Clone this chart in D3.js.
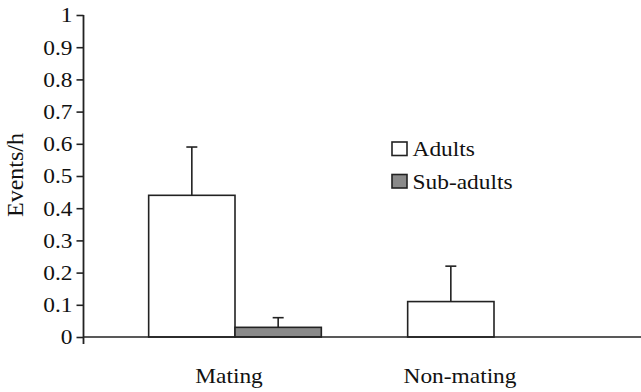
<!DOCTYPE html>
<html><head><meta charset="utf-8">
<script src="https://cdn.jsdelivr.net/npm/d3@7"></script>
<style>body{margin:0;background:#fff}svg{display:block}text{font-family:"Liberation Serif","Times New Roman",serif;fill:#111}</style>
</head><body><svg id="c" width="641" height="392"></svg>
<script>
const categories = ["Mating", "Non-mating"];
const groups = ["Adults", "Sub-adults"];
const adults = [0.44, 0.11];
const adultsErr = [0.59, 0.22];
const subAdults = [0.03, 0];
const subAdultsErr = [0.06, 0];
const yTicks = [0,0.1,0.2,0.3,0.4,0.5,0.6,0.7,0.8,0.9,1];
const yTickLabels = ["0","0.1","0.2","0.3","0.4","0.5","0.6","0.7","0.8","0.9","1"];

const svg = d3.select("#c");
const SX = 1.17, FS = 20, stroke = "#222";
const y = d3.scaleLinear().domain([0,1]).range([337,15]);
const x = d3.scaleBand().domain(categories).range([105.5,623.5]).paddingInner(0).paddingOuter(0);
const xs = d3.scaleBand().domain(groups).range([0,x.bandwidth()]).paddingInner(0).paddingOuter(0.5);
const fills = {"Adults":"#ffffff","Sub-adults":"#8a8a8a"};

const data = [];
categories.forEach((c,i)=>{
  data.push({c, g:"Adults", v:adults[i], e:adultsErr[i]});
  data.push({c, g:"Sub-adults", v:subAdults[i], e:subAdultsErr[i]});
});

// bars
const bars = data.filter(d=>d.v>0);
svg.selectAll("rect.bar").data(bars).join("rect").attr("class","bar")
  .attr("x", d=>x(d.c)+xs(d.g)).attr("width", xs.bandwidth())
  .attr("y", d=>y(d.v)).attr("height", d=>y(0)-y(d.v))
  .attr("fill", d=>fills[d.g]).attr("stroke", stroke).attr("stroke-width",1.6);

// error bars
const eg = svg.selectAll("g.err").data(bars).join("g").attr("class","err")
  .attr("stroke", stroke).attr("stroke-width",1.6);
eg.append("line").attr("x1", d=>x(d.c)+xs(d.g)+xs.bandwidth()/2).attr("x2", d=>x(d.c)+xs(d.g)+xs.bandwidth()/2)
  .attr("y1", d=>y(d.v)).attr("y2", d=>y(d.e));
eg.append("line").attr("x1", d=>x(d.c)+xs(d.g)+xs.bandwidth()/2-5.5).attr("x2", d=>x(d.c)+xs(d.g)+xs.bandwidth()/2+5.5)
  .attr("y1", d=>y(d.e)).attr("y2", d=>y(d.e));

// x axis line
svg.append("line").attr("x1",83.5).attr("x2",641).attr("y1",y(0)).attr("y2",y(0)).attr("stroke",stroke).attr("stroke-width",1.6);

// y axis
const ya = svg.append("g").attr("transform","translate(83.5,0)")
  .call(d3.axisLeft(y).tickValues(yTicks).tickFormat((d,i)=>yTickLabels[i]).tickSize(7).tickSizeOuter(0));
ya.select(".domain").remove();
ya.selectAll(".tick line").attr("stroke",stroke).attr("stroke-width",1.6);
ya.selectAll(".tick text").attr("font-size",FS).attr("font-family","Liberation Serif").attr("fill","#111")
  .attr("x",0).attr("dy","0.34em").attr("transform",`translate(-11,0) scale(${SX},1)`);
svg.append("line").attr("x1",83.5).attr("x2",83.5).attr("y1",y(1)).attr("y2",y(0)+7).attr("stroke",stroke).attr("stroke-width",1.8);

// category labels
const labOff = [-6, -34];
svg.selectAll("text.cat").data(categories).join("text").attr("class","cat")
  .attr("text-anchor","middle").attr("font-size",FS)
  .attr("transform",(d,i)=>`translate(${x(d)+x.bandwidth()/2+labOff[i]},383) scale(${SX},1)`)
  .text(d=>d);

// y label
svg.append("text").attr("text-anchor","middle").attr("font-size",24)
  .attr("transform","translate(22.5,175) rotate(-90)").text("Events/h");

// legend
const lg = svg.selectAll("g.leg").data(groups).join("g").attr("class","leg")
  .attr("transform",(d,i)=>`translate(392,${142+i*32.5})`);
lg.append("rect").attr("width",15).attr("height",13.5).attr("fill",d=>fills[d]).attr("stroke",stroke).attr("stroke-width",1.6);
lg.append("text").attr("font-size",FS).attr("transform",`translate(20.5,14) scale(${SX},1)`).text(d=>d);
</script></body></html>
